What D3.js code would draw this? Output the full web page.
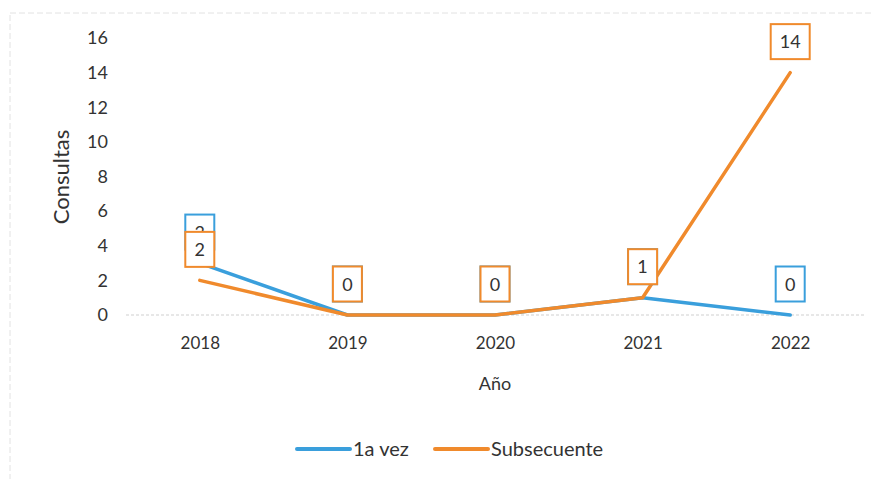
<!DOCTYPE html>
<html>
<head>
<meta charset="utf-8">
<script src="https://cdn.jsdelivr.net/npm/d3@7"></script>
<style>
  html, body { margin: 0; padding: 0; background: #fff; }
  text { font-family: Lato, "Open Sans", sans-serif; fill: #333; }
</style>
</head>
<body>
<div id="chart"></div>
<script>
(function () {
  'use strict';

  var years = ['2018', '2019', '2020', '2021', '2022'];
  var primeraVez = [3, 0, 0, 1, 0];
  var subsecuente = [2, 0, 0, 1, 14];
  var yTicks = [0, 2, 4, 6, 8, 10, 12, 14, 16];
  var seriesNames = ['1a vez', 'Subsecuente'];
  var colors = ['#3a9fdc', '#f08a2c'];

  var W = 874, H = 479;
  var plot = { left: 126, right: 864, top: 38, bottom: 315 };

  var svg = d3.select('#chart').append('svg')
    .attr('width', W).attr('height', H);

  // faint frame of the scanned chart
  svg.append('rect')
    .attr('x', 10).attr('y', 13).attr('width', W - 8).attr('height', H)
    .attr('fill', 'none').attr('stroke', '#e2e2e2')
    .attr('stroke-dasharray', '6,3');

  var x = d3.scalePoint().domain(years)
    .range([plot.left, plot.right]).padding(0.5);
  var y = d3.scaleLinear().domain([0, 16])
    .range([plot.bottom, plot.top]);

  // baseline gridline
  svg.append('line')
    .attr('x1', plot.left).attr('x2', plot.right)
    .attr('y1', y(0)).attr('y2', y(0))
    .attr('stroke', '#cfcfcf').attr('stroke-width', 1)
    .attr('stroke-dasharray', '3,2');

  var yAxis = svg.append('g')
    .attr('transform', 'translate(108,0)')
    .call(d3.axisLeft(y).tickValues(yTicks).tickSize(0).tickPadding(0));
  yAxis.select('.domain').remove();
  yAxis.selectAll('text').attr('font-size', '18px').attr('fill', '#333');

  var xAxis = svg.append('g')
    .attr('transform', 'translate(0,' + (plot.bottom + 22) + ')')
    .call(d3.axisBottom(x).tickSize(0).tickPadding(0));
  xAxis.select('.domain').remove();
  xAxis.selectAll('text').attr('font-size', '17px').attr('fill', '#333');

  svg.append('text')
    .attr('x', x('2020')).attr('y', 390)
    .attr('text-anchor', 'middle').attr('font-size', '18px')
    .text('Año');

  svg.append('text')
    .attr('transform', 'translate(69,' + 177 + ') rotate(-90)')
    .attr('text-anchor', 'middle').attr('font-size', '22px')
    .text('Consultas');

  var line = d3.line()
    .x(function (d, i) { return x(years[i]); })
    .y(function (d) { return y(d); });

  var allSeries = [primeraVez, subsecuente];

  allSeries.forEach(function (s, k) {
    svg.append('path')
      .datum(s)
      .attr('d', line)
      .attr('fill', 'none')
      .attr('stroke', colors[k])
      .attr('stroke-width', 3.5)
      .attr('stroke-linecap', 'round')
      .attr('stroke-linejoin', 'round');
  });

  // data labels; orange boxes sit on top of the blue ones, as in the original
  allSeries.forEach(function (s, k) {
    var g = svg.append('g');
    s.forEach(function (v, i) {
      var label = String(v);
      var bw = label.length > 1 ? 39 : 29;
      var bh = 35;
      var cx = x(years[i]);
      var cy = y(v) - 31;
      g.append('rect')
        .attr('x', cx - bw / 2).attr('y', cy - bh / 2)
        .attr('width', bw).attr('height', bh)
        .attr('fill', '#fff')
        .attr('stroke', colors[k]).attr('stroke-width', 2);
      g.append('text')
        .attr('x', cx).attr('y', cy + 6.5)
        .attr('text-anchor', 'middle').attr('font-size', '18px')
        .attr('fill', '#222')
        .text(label);
    });
  });

  // legend
  var legendItems = [
    { name: seriesNames[0], color: colors[0], x1: 297, x2: 350 },
    { name: seriesNames[1], color: colors[1], x1: 435, x2: 488 }
  ];
  legendItems.forEach(function (d) {
    svg.append('line')
      .attr('x1', d.x1).attr('x2', d.x2)
      .attr('y1', 449).attr('y2', 449)
      .attr('stroke', d.color).attr('stroke-width', 4)
      .attr('stroke-linecap', 'round');
    svg.append('text')
      .attr('x', d.x2 + 3).attr('y', 456)
      .attr('font-size', '20px')
      .text(d.name);
  });
})();
</script>
</body>
</html>
